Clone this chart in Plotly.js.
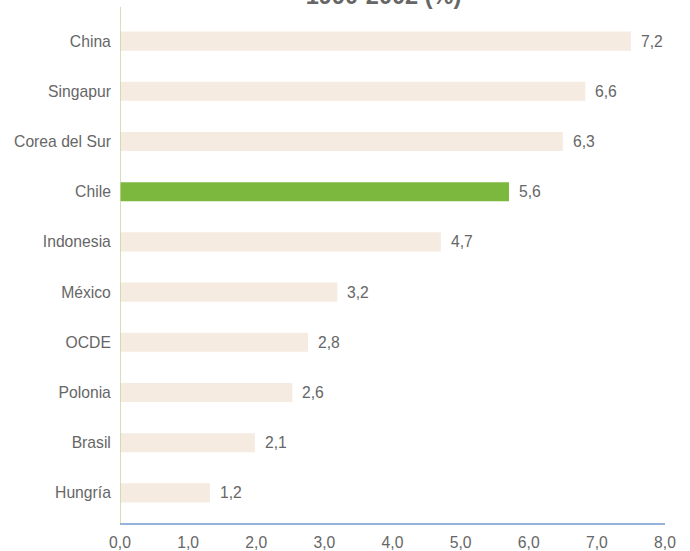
<!DOCTYPE html>
<html>
<head>
<meta charset="utf-8">
<script src="https://cdn.plot.ly/plotly-3.0.1.min.js"></script>
<style>html,body{margin:0;padding:0;background:#fff;}#chart{width:690px;height:551px;}</style>
</head>
<body>
<div id="chart"></div>
<script>
// categories, bottom to top
const countries = ["Hungría", "Brasil", "Polonia", "OCDE", "México", "Indonesia", "Chile", "Corea del Sur", "Singapur", "China"];
// bar lengths as drawn in the picture
const barValues = [1.32, 1.98, 2.53, 2.76, 3.19, 4.71, 5.71, 6.50, 6.83, 7.50];
// value labels as printed
const valueLabels = ["1,2", "2,1", "2,6", "2,8", "3,2", "4,7", "5,6", "6,3", "6,6", "7,2"];
const xTickVals = [0, 1, 2, 3, 4, 5, 6, 7, 8];
const xTickText = ["0,0", "1,0", "2,0", "3,0", "4,0", "5,0", "6,0", "7,0", "8,0"];
const titleText = "1990-2002 (%)";
const highlight = "Chile";

const beige = "#f5ebe0";
const green = "#7db83e";
const grey = "#666666";
const fontFam = "Liberation Sans, Arial, sans-serif";
const fs = 15.7;

const colors = countries.map(c => c === highlight ? green : beige);

const trace = {
  type: "bar",
  orientation: "h",
  x: barValues,
  y: countries,
  marker: { color: colors, line: { width: 0 } },
  hoverinfo: "skip"
};

const annotations = countries.map((c, i) => ({
  x: barValues[i], y: c, xref: "x", yref: "y",
  text: valueLabels[i], showarrow: false,
  xanchor: "left", yanchor: "middle", xshift: 8,
  font: { family: fontFam, size: fs, color: grey }
}));

const layout = {
  width: 690, height: 551,
  margin: { l: 120, r: 25, t: 16, b: 28 },
  paper_bgcolor: "#ffffff",
  plot_bgcolor: "#ffffff",
  showlegend: false,
  bargap: 0.62,
  title: {
    text: "<b>" + titleText + "</b>",
    font: { family: fontFam, size: 23.5, color: grey },
    x: 383.5 / 690, xanchor: "center",
    yref: "container", y: 1 - 4 / 551, yanchor: "bottom"
  },
  xaxis: {
    range: [0, 8],
    tickvals: xTickVals, ticktext: xTickText,
    showgrid: false, zeroline: false,
    showline: true, linecolor: "#95b3d7", linewidth: 1.5,
    ticks: "outside", ticklen: 5, tickcolor: "rgba(0,0,0,0)",
    tickfont: { family: fontFam, size: fs, color: grey },
    fixedrange: true
  },
  yaxis: {
    type: "category",
    categoryorder: "array", categoryarray: countries,
    range: [-0.6, 9.5],
    showgrid: false, zeroline: false, showline: false,
    ticks: "outside", ticklen: 5, tickcolor: "rgba(0,0,0,0)",
    tickfont: { family: fontFam, size: fs, color: grey },
    fixedrange: true
  },
  shapes: [{
    type: "line", xref: "x", yref: "paper",
    x0: 0, x1: 0, y0: 0, y1: 1.018,
    line: { color: "#c4d79b", width: 1.5 }
  }],
  annotations: annotations
};

Plotly.newPlot("chart", [trace], layout, { displayModeBar: false, staticPlot: true });
</script>
</body>
</html>
